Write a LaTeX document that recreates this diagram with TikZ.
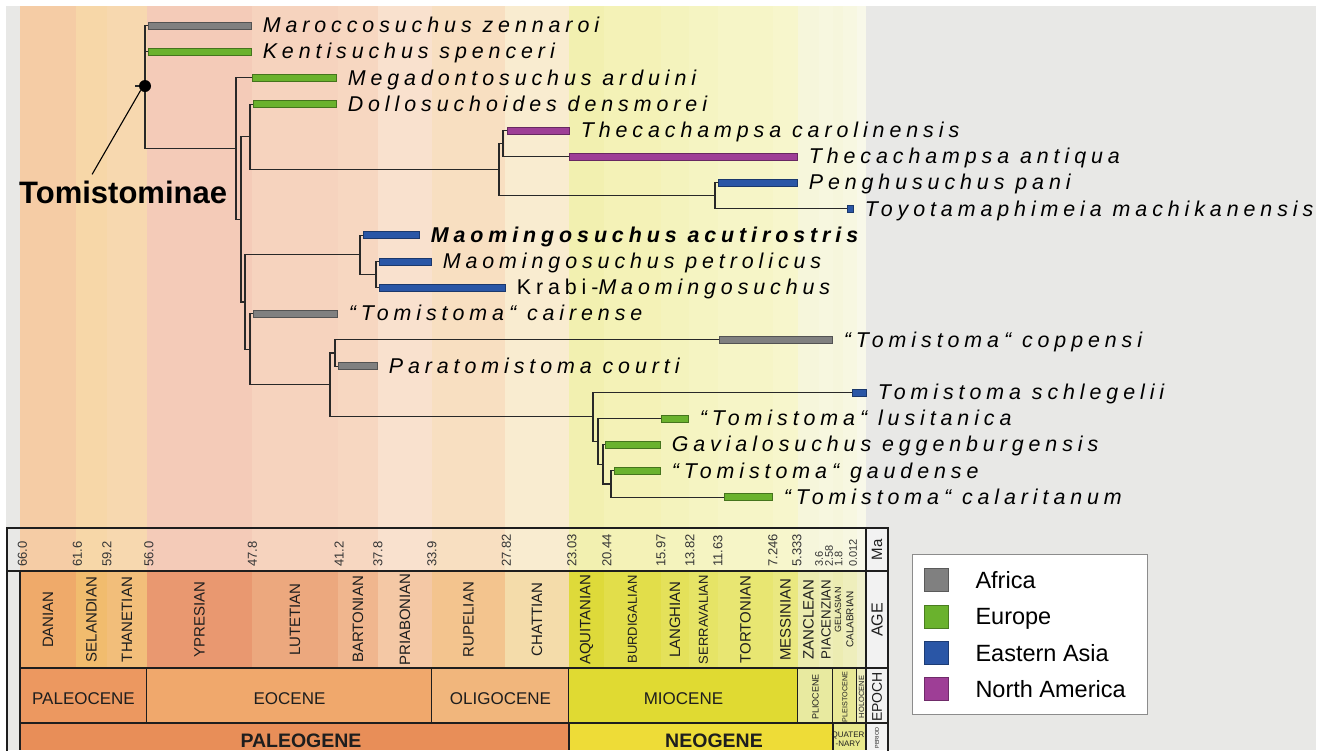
\documentclass[tikz,border=0pt]{standalone}
\usepackage{fontspec}
\setmainfont{Liberation Sans}
\newfontfamily\taxfont[LetterSpace=23]{Liberation Sans}
\usepackage{xcolor}
\usetikzlibrary{positioning}

\definecolor{africa}{RGB}{128,128,128}
\definecolor{europe}{RGB}{106,178,45}
\definecolor{easia}{RGB}{42,86,166}
\definecolor{namerica}{RGB}{158,62,150}
\definecolor{bggray}{RGB}{232,232,230}
\definecolor{treeline}{RGB}{40,40,40}
\definecolor{chartink}{RGB}{30,30,30}
\definecolor{labelcol}{RGB}{242,242,242}
% stages
\definecolor{danian}{RGB}{239,170,106}
\definecolor{selandian}{RGB}{241,188,110}
\definecolor{thanetian}{RGB}{242,190,122}
\definecolor{ypresian}{RGB}{233,152,112}
\definecolor{lutetian}{RGB}{236,168,126}
\definecolor{bartonian}{RGB}{240,182,142}
\definecolor{priabonian}{RGB}{244,200,165}
\definecolor{rupelian}{RGB}{243,196,142}
\definecolor{chattian}{RGB}{244,220,170}
\definecolor{aquitanian}{RGB}{222,218,58}
\definecolor{burdigalian}{RGB}{226,222,74}
\definecolor{langhian}{RGB}{228,225,90}
\definecolor{serravalian}{RGB}{230,228,102}
\definecolor{tortonian}{RGB}{232,230,114}
\definecolor{messinian}{RGB}{234,232,128}
\definecolor{zanclean}{RGB}{236,236,175}
\definecolor{piacenzian}{RGB}{238,238,185}
\definecolor{gelasian}{RGB}{236,236,178}
\definecolor{calabrian}{RGB}{238,238,188}
\definecolor{holoage}{RGB}{240,240,205}
% epochs and periods
\definecolor{paleocene}{RGB}{236,152,96}
\definecolor{eocene}{RGB}{240,168,108}
\definecolor{oligocene}{RGB}{241,182,124}
\definecolor{miocene}{RGB}{224,218,50}
\definecolor{pliocene}{RGB}{232,234,160}
\definecolor{pleistocene}{RGB}{232,232,150}
\definecolor{holocene}{RGB}{238,238,190}
\definecolor{paleogene}{RGB}{232,142,88}
\definecolor{neogene}{RGB}{238,220,55}
\definecolor{quaternary}{RGB}{232,232,140}

\tikzset{
  branch/.style={draw=treeline,line width=1.1pt},
  bar/.style={draw=#1!65!black,fill=#1,line width=0.6pt,minimum height=7pt,inner sep=0pt,anchor=west},
  taxon/.style={font=\taxfont\itshape\fontsize{21.4}{24}\selectfont,inner sep=0pt,text height=14.5pt,text depth=0pt},
  clade/.style={font=\bfseries\fontsize{31}{31}\selectfont,inner sep=0pt,anchor=base west},
  thickline/.style={draw=chartink,line width=2.4pt},
  cellline/.style={draw=chartink,line width=0.9pt},
  epochline/.style={draw=chartink,line width=1.6pt},
  chartlabel/.style={text=chartink,inner sep=0pt},
  malabel/.style={text=chartink!90,inner sep=0pt,rotate=90,anchor=west},
  swatch/.style={draw=#1!70!black,fill=#1,line width=0.6pt,minimum width=24pt,minimum height=23pt,inner sep=0pt},
  legtext/.style={font=\fontsize{23.5}{24}\selectfont,inner sep=0pt,text height=16.5pt,text depth=0pt}
}

\begin{document}
\begin{tikzpicture}[x=1pt,y=-1pt]
  \useasboundingbox (0,0) rectangle (1322,750);
  \clip (0,0) rectangle (1322,750);
  \fill[white] (0,0) rectangle (1322,750);
  \fill[bggray] (6,6) rectangle (1316,750);

  % stages: band above, cell in the chart
  \foreach \a/\b/\nm/\col/\fs/\pc/\yc in {20/76/DANIAN/danian/15/60/619.5,
      76/107/SELANDIAN/selandian/15/60/619.5, 107/147/THANETIAN/thanetian/15/60/619.5,
      147/252/YPRESIAN/ypresian/15/50/619.5, 252/338/LUTETIAN/lutetian/15/50/619.5,
      338/378/BARTONIAN/bartonian/15/55/619.5, 378/432/PRIABONIAN/priabonian/15/55/619.5,
      432/505/RUPELIAN/rupelian/15/55/619.5, 505/569/CHATTIAN/chattian/15/55/619.5,
      569/604/AQUITANIAN/aquitanian/15/40/619.5, 604/661/BURDIGALIAN/burdigalian/13/40/619.5,
      661/689/LANGHIAN/langhian/15/40/619.5, 689/718/SERRAVALIAN/serravalian/13/40/619.5,
      718/773/TORTONIAN/tortonian/15/40/619.5, 773/798/MESSINIAN/messinian/15/40/619.5,
      798/819/ZANCLEAN/zanclean/15/45/619.5, 819/833/PIACENZIAN/piacenzian/13.3/45/619.5,
      833/843/GELASIAN/gelasian/9/45/610, 843/857/CALABRIAN/calabrian/10/45/619.5}{
    \fill[\col!\pc!white] (\a,6) rectangle (\b,571);
    \fill[\col] (\a,571) rectangle (\b,668);
    \draw[cellline] (\b,571) -- (\b,668);
    \node[chartlabel,rotate=90,font=\fontsize{\fs}{\fs}\selectfont] (age\a) at ({(\a+\b)/2},\yc) {\nm};
  }
  \fill[holoage!45!white] (857,6) rectangle (866,571);
  \fill[holoage] (857,571) rectangle (866,668);

  % epochs
  \foreach \a/\b/\nm/\col/\fs/\rot/\yc in {20/147/PALEOCENE/paleocene/17/0/699,
      147/432/EOCENE/eocene/17/0/699, 432/569/OLIGOCENE/oligocene/17/0/699,
      569/798/MIOCENE/miocene/17/0/699, 798/833/PLIOCENE/pliocene/9/90/697,
      833/857/PLEISTOCENE/pleistocene/7.2/90/697, 857/866/HOLOCENE/holocene/7.5/90/697}{
    \fill[\col] (\a,668) rectangle (\b,723);
    \draw[epochline] (\b,668) -- (\b,723);
    \node[chartlabel,rotate=\rot,font=\fontsize{\fs}{\fs}\selectfont] (ep\a) at ({(\a+\b)/2},\yc) {\nm};
  }

  % periods
  \fill[paleogene] (20,723) rectangle (569,750);
  \fill[neogene] (569,723) rectangle (833,750);
  \fill[quaternary] (833,723) rectangle (866,750);
  \draw[epochline] (569,723) -- (569,750);
  \draw[epochline] (833,723) -- (833,750);
  \node[chartlabel,anchor=base,font=\bfseries\fontsize{19.5}{19.5}\selectfont] (paleogene) at (301,747) {PALEOGENE};
  \node[chartlabel,anchor=base,font=\bfseries\fontsize{19.5}{19.5}\selectfont] (neogene) at (714,747) {NEOGENE};
  \node[chartlabel,align=center,font=\fontsize{8}{9}\selectfont] (quaternary) at (848,739) {QUATER\\-NARY};

  % Ma ticks
  \foreach \x/\t [count=\k] in {22.5/66.0, 77.5/61.6, 107/59.2, 149/56.0, 252.5/47.8, 339/41.2,
      378/37.8, 432/33.9, 506.5/27.82, 572/23.03, 607/20.44, 661/15.97, 690/13.82, 718/11.63,
      773/7.246, 797/5.333}
    \node[malabel,font=\fontsize{13}{13}\selectfont] (ma\k) at (\x,567) {\t};
  \foreach \x/\t [count=\k] in {819/3.6, 829/2.58, 838.5/1.8, 853/0.012}
    \node[malabel,font=\fontsize{11}{11}\selectfont] (mq\k) at (\x,567) {\t};

  % right column
  \fill[labelcol] (866,528) rectangle (888,750);
  \node[chartlabel,rotate=90,font=\fontsize{15}{15}\selectfont] (colma) at (877,550) {Ma};
  \node[chartlabel,rotate=90,font=\fontsize{16}{16}\selectfont] (colage) at (877,620) {AGE};
  \node[chartlabel,rotate=90,font=\fontsize{14}{14}\selectfont] (colepoch) at (877,697) {EPOCH};
  \node[chartlabel,rotate=90,font=\fontsize{5.5}{5.5}\selectfont] (colperiod) at (877,738) {PERIOD};

  \draw[thickline] (7,528) rectangle (888,760);
  \draw[thickline] (7,571) -- (888,571);
  \draw[thickline] (20,668) -- (888,668);
  \draw[thickline] (20,723) -- (888,723);
  \draw[thickline] (20,571) -- (20,750);
  \draw[thickline] (866,528) -- (866,750);

  % tips
  \foreach \i/\s/\e/\c/\txt in {1/148/251/africa/Maroccosuchus zennaroi,
      2/148/251/europe/Kentisuchus spenceri,
      3/252/336/europe/Megadontosuchus arduini,
      4/253/336/europe/Dollosuchoides densmorei,
      5/507/569/namerica/Thecachampsa carolinensis,
      6/569/797/namerica/Thecachampsa antiqua,
      7/718/797/easia/Penghusuchus pani,
      8/847/853/easia/Toyotamaphimeia machikanensis,
      9/363/419/easia/\bfseries Maomingosuchus acutirostris,
      10/379/431/easia/Maomingosuchus petrolicus,
      11/379/505/easia/{\upshape Krabi-}Maomingosuchus,
      12/253/337/africa/“Tomistoma“ cairense,
      13/719/832/africa/“Tomistoma“ coppensi,
      14/338/377/africa/Paratomistoma courti,
      15/852/866/easia/Tomistoma schlegelii,
      16/661/688/europe/“Tomistoma“ lusitanica,
      17/605/660/europe/Gavialosuchus eggenburgensis,
      18/614/660/europe/“Tomistoma“ gaudense,
      19/724/772/europe/“Tomistoma“ calaritanum}{
    \pgfmathsetmacro\w{\e-\s}
    \node[bar=\c,minimum width=\w pt] (b\i) at (\s,{25.5+26.2*(\i-1)}) {};
    \node[taxon,right=11pt of b\i] (t\i) {\txt};
  }

  % internal nodes
  \coordinate (root) at (145,86);
  \coordinate (stem) at (135,86);
  \coordinate (n1) at (236,148.7);
  \coordinate (n2) at (241,219.4);
  \coordinate (n3) at (250,136.9);
  \coordinate (n4) at (245,302);
  \coordinate (n5) at (250,349.3);
  \coordinate (n6) at (330,384.9);
  \coordinate (n7) at (499,169.6);
  \coordinate (n8) at (503,143.4);
  \coordinate (n9) at (715,195.8);
  \coordinate (n10) at (360,254.8);
  \coordinate (n11) at (376,274.4);
  \coordinate (n12) at (335,353);
  \coordinate (n13) at (593,416.9);
  \coordinate (n14) at (598,441.4);
  \coordinate (n15) at (603,464.4);
  \coordinate (n16) at (611,484);

  \foreach \p/\q in {root/b1.west, root/b2.west, root/n1, n1/b3.west, n1/n2, n2/n3, n2/n4,
      n3/b4.west, n3/n7, n7/n8, n7/n9, n8/b5.west, n8/b6.west, n9/b7.west, n9/b8.west,
      n4/n10, n4/n5, n10/b9.west, n10/n11, n11/b10.west, n11/b11.west, n5/b12.west, n5/n6,
      n6/n12, n6/n13, n12/b13.west, n12/b14.west, n13/b15.west, n13/n14, n14/b16.west,
      n14/n15, n15/b17.west, n15/n16, n16/b18.west, n16/b19.west}
    \draw[branch] (\p) |- (\q);
  \draw[branch] (stem) -- (root);
  \node[circle,fill=black,inner sep=0pt,minimum size=12pt] (rootdot) at (root) {};

  \node[clade] (clade) at (19,203) {Tomistominae};
  \draw[line width=1.1pt] ([shift={(-31,-6)}]clade.north) -- (rootdot.south west);

  % legend
  \node[draw=black!45,fill=white,line width=1pt,minimum width=235pt,minimum height=160pt,inner sep=0pt] (legend) at (1029.5,634) {};
  \foreach \i/\c/\t in {0/africa/Africa, 1/europe/Europe, 2/easia/Eastern Asia, 3/namerica/North America}{
    \node[swatch=\c] (sw\i) at (936,{580+36.4*\i}) {};
    \node[legtext,right=27pt of sw\i] (lt\i) {\t};
  }
\end{tikzpicture}
\end{document}
